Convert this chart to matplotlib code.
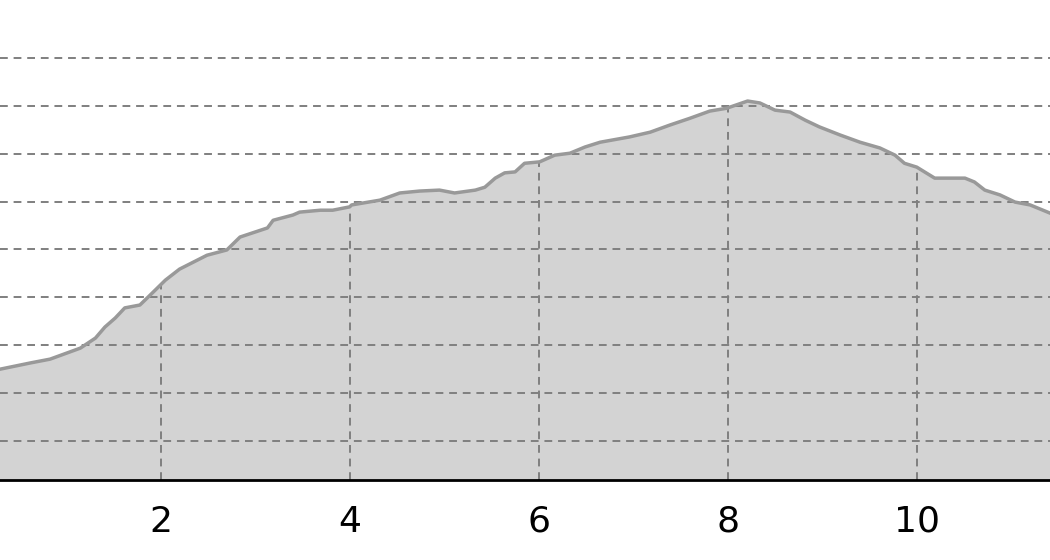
import numpy as np
import matplotlib
matplotlib.use("Agg")
import matplotlib.pyplot as plt

# distance (x) and elevation (y)
distance = [0.30, 0.62, 0.83, 1.15, 1.31, 1.41, 1.52, 1.62, 1.78, 1.89, 2.05, 2.20,
            2.49, 2.70, 2.84, 3.13, 3.19, 3.40, 3.47, 3.69, 3.82, 4.00, 4.02, 4.32,
            4.53, 4.74, 4.95, 5.11, 5.33, 5.43, 5.54, 5.64, 5.75, 5.85, 6.01, 6.17,
            6.33, 6.49, 6.65, 6.96, 7.18, 7.39, 7.60, 7.81, 7.99, 8.21, 8.34, 8.50,
            8.66, 8.82, 8.97, 9.19, 9.40, 9.61, 9.77, 9.87, 10.00, 10.19, 10.51,
            10.61, 10.72, 10.88, 11.04, 11.20, 11.41]
elevation = [25.0, 26.3, 27.1, 29.4, 31.5, 33.8, 35.7, 37.8, 38.4, 40.5, 43.6, 45.9,
             48.8, 49.9, 52.6, 54.5, 56.1, 57.2, 57.8, 58.2, 58.2, 58.9, 59.3, 60.3,
             61.8, 62.2, 62.4, 61.8, 62.4, 63.0, 64.9, 66.0, 66.2, 68.0, 68.3, 69.7,
             70.1, 71.4, 72.4, 73.5, 74.5, 76.0, 77.4, 78.9, 79.5, 81.0, 80.6, 79.1,
             78.7, 77.0, 75.6, 73.9, 72.4, 71.2, 69.7, 68.0, 67.2, 64.9, 64.9,
             64.1, 62.4, 61.4, 59.9, 59.3, 57.6]
x_ticks = [2, 4, 6, 8, 10]
y_grid = [10, 20, 30, 40, 50, 60, 70, 80, 90]

x_lim = (0.30, 11.41)
y_lim = (1.86, 102.1)

fig = plt.figure(figsize=(10.5, 5.6), dpi=100)
ax = fig.add_axes([0, 80 / 560, 1, 480 / 560])

grid_style = dict(color="#7f7f7f", linewidth=1.4, linestyle=(0, (4, 3)))

ax.fill_between(distance, elevation, y_lim[0], color="#d3d3d3", zorder=0.3, linewidth=0)
for g in y_grid:
    ax.axhline(g, zorder=0.5, **grid_style)
tops = np.interp(x_ticks, distance, elevation)
ax.vlines(x_ticks, y_lim[0], tops, zorder=0.5, **grid_style)
ax.plot(distance, elevation, color="#999999", linewidth=2.5, zorder=2,
        solid_joinstyle="round")

ax.set_xlim(*x_lim)
ax.set_ylim(*y_lim)
ax.set_xticks(x_ticks)
ax.set_xticklabels([str(t) for t in x_ticks])
ax.set_yticks([])
ax.tick_params(axis="x", length=0, pad=18, labelsize=26, labelcolor="black")
for s in ["left", "right", "top"]:
    ax.spines[s].set_visible(False)
ax.spines["bottom"].set_linewidth(2.0)
ax.spines["bottom"].set_color("black")
ax.patch.set_alpha(0)

fig.savefig("out.png", dpi=100)
